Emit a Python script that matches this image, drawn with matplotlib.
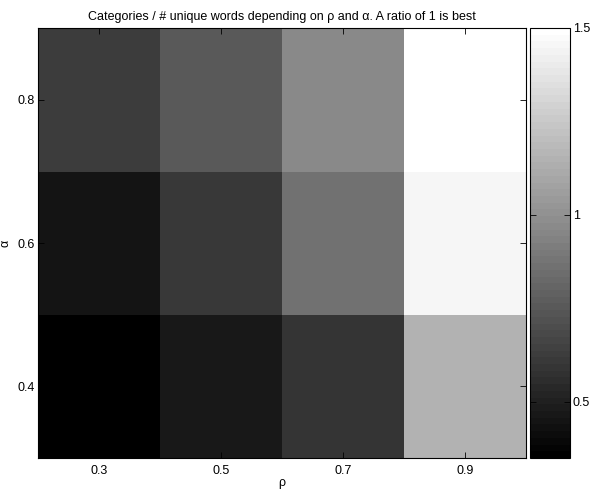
import matplotlib
matplotlib.use("Agg")
import matplotlib.pyplot as plt
import numpy as np

rho = [0.3, 0.5, 0.7, 0.9]
alpha = [0.4, 0.6, 0.8]
# ratio values, rows = alpha (0.4, 0.6, 0.8), columns = rho
ratio_a04 = [0.35, 0.467, 0.594, 1.157]
ratio_a06 = [0.445, 0.603, 0.864, 1.45]
ratio_a08 = [0.625, 0.760, 0.972, 1.50]
cbar_ticks = [0.5, 1, 1.5]

plt.rcParams['font.family'] = ['Liberation Sans', 'DejaVu Sans']
plt.rcParams['font.size'] = 9

Z = np.array([ratio_a04, ratio_a06, ratio_a08])
cmap = plt.get_cmap('gray', 64)

fig = plt.figure(figsize=(6.10, 4.91), dpi=100)
ax = fig.add_axes([38/610, 1-458/491, (526-38)/610, (458-28)/491])
cax = fig.add_axes([530/610, 1-458/491, (570-530)/610, (458-28)/491])

drho = rho[1] - rho[0]
dal = alpha[1] - alpha[0]
extent = [rho[0]-drho/2, rho[-1]+drho/2, alpha[0]-dal/2, alpha[-1]+dal/2]
im = ax.imshow(Z, cmap=cmap, vmin=0.35, vmax=1.5, origin='lower', extent=extent,
               aspect='auto', interpolation='nearest')
ax.set_xticks(rho)
ax.set_yticks(alpha)
ax.set_xticklabels([str(r) for r in rho])
ax.set_yticklabels([str(a) for a in alpha])
ax.tick_params(direction='in', top=True, right=True, length=4, width=0.6)
ax.tick_params(axis='x', pad=5)
ax.tick_params(axis='y', pad=2.5)
ax.set_xlabel('ρ', labelpad=0)
ax.set_ylabel('α', labelpad=4)
ax.set_title('Categories / # unique words depending on ρ and α. A ratio of 1 is best', fontsize=9, pad=6)
for s in ax.spines.values():
    s.set_linewidth(0.8)

cb = fig.colorbar(im, cax=cax, ticks=cbar_ticks)
cb.ax.set_yticklabels(['0.5', '1', '1.5'])
cb.ax.tick_params(direction='in', left=True, right=True, length=4, width=0.6, pad=2)
cb.outline.set_linewidth(0.8)

fig.savefig('out.png', dpi=100)
